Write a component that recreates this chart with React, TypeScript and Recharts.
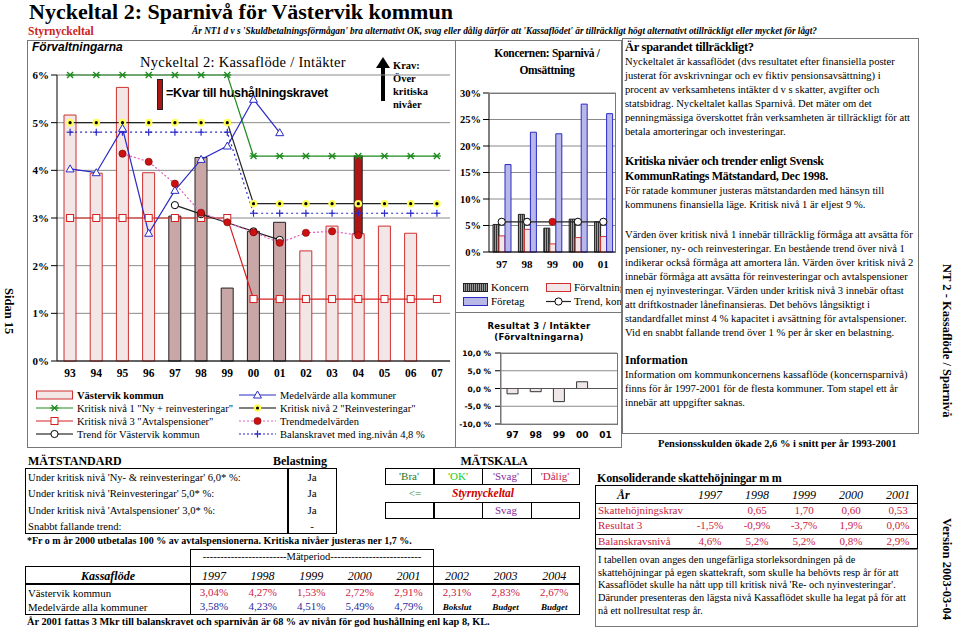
import React from 'react';
import { ComposedChart, BarChart, Bar, Line, XAxis, YAxis, CartesianGrid, Cell, ReferenceLine } from 'recharts';

// main chart: Förvaltningarna
const years = ['93', '94', '95', '96', '97', '98', '99', '00', '01', '02', '03', '04', '05', '06', '07'];
const vastervik = [5.16, 3.94, 5.74, 3.95, 3.04, 4.27, 1.53, 2.72, 2.91, 2.31, 2.83, 2.67, 2.83, 2.68, null];
const actualYears = ['97', '98', '99', '00', '01'];
// kvar till hushållningskravet, stacked on top of the 04 bar (2,67 -> 4,3)
const kvarTillKrav = [null, null, null, null, null, null, null, null, null, null, null, 1.63, null, null, null];
const niva1 = [6, 6, 6, 6, 6, 6, 6, 4.3, 4.3, 4.3, 4.3, 4.3, 4.3, 4.3, 4.3];
const niva2 = [5, 5, 5, 5, 5, 5, 5, 3.3, 3.3, 3.3, 3.3, 3.3, 3.3, 3.3, 3.3];
const niva3 = [3, 3, 3, 3, 3, 3, 3, 1.3, 1.3, 1.3, 1.3, 1.3, 1.3, 1.3, 1.3];
const balanskrav = [4.8, 4.8, 4.8, 4.8, 4.8, 4.8, 4.8, 3.1, 3.1, 3.1, 3.1, 3.1, 3.1, 3.1, 3.1];
const medelAlla = [4.03, 3.95, 4.88, 2.68, 3.58, 4.23, 4.51, 5.49, 4.79, null, null, null, null, null, null];
const trendMedel = [null, null, 4.35, 4.18, 3.72, 3.11, 2.91, 2.7, 2.48, 2.69, 2.72, 2.64, null, null, null];
const trendVastervik = [null, null, null, null, 3.27, 3.08, 2.9, 2.72, 2.54, null, null, null, null, null, null];

// Koncernen: Sparnivå / Omsättning
const kYears = ['97', '98', '99', '00', '01'];
const koncern = [5.2, 7.1, 4.5, 6.2, 5.7];
const forvaltning = [3.04, 4.27, 1.53, 2.72, 2.91];
const foretag = [16.5, 22.6, 22.3, 27.9, 26.1];
const trendKoncern = [5.7, 5.7, 5.7, 5.7, 5.7];

// Resultat 3 / Intäkter
const resultat3 = [-1.5, -0.9, -3.7, 1.9, 0.0];

const mainData = years.map((y, i) => ({
  year: y,
  vastervik: vastervik[i],
  kvar: kvarTillKrav[i],
  niva1: niva1[i],
  niva2: niva2[i],
  niva3: niva3[i],
  balans: balanskrav[i],
  medel: medelAlla[i],
  trendMedel: trendMedel[i],
  trendV: trendVastervik[i],
}));
const koncernData = kYears.map((y, i) => ({ year: y, koncern: koncern[i], forv: forvaltning[i], foretag: foretag[i], trend: trendKoncern[i] }));
const resData = kYears.map((y, i) => ({ year: y, res: resultat3[i] }));

const SERIF = '"Liberation Serif", "Times New Roman", serif';
const SANS = '"Liberation Sans", Arial, sans-serif';
const VERD = '"DejaVu Sans", Verdana, sans-serif';

// markers
const Star = ({ cx, cy }: any) => (
  <g stroke="#1f8a1f" strokeWidth={1.3}>
    <line x1={cx - 4} y1={cy} x2={cx + 4} y2={cy} />
    <line x1={cx - 3} y1={cy - 3} x2={cx + 3} y2={cy + 3} />
    <line x1={cx - 3} y1={cy + 3} x2={cx + 3} y2={cy - 3} />
  </g>
);
const YellowDot = ({ cx, cy }: any) => (
  <g>
    <circle cx={cx} cy={cy} r={3.8} fill="#ffff55" />
    <circle cx={cx} cy={cy} r={1.6} fill="#000" />
  </g>
);
const Square = ({ cx, cy }: any) => <rect x={cx - 3.5} y={cy - 3.5} width={7} height={7} fill="#fff" stroke="#d82020" strokeWidth={1} />;
const Plus = ({ cx, cy }: any) => (
  <g stroke="#2a2ac8" strokeWidth={1.2}>
    <line x1={cx - 3.5} y1={cy} x2={cx + 3.5} y2={cy} />
    <line x1={cx} y1={cy - 3.5} x2={cx} y2={cy + 3.5} />
  </g>
);
const Tri = ({ cx, cy }: any) => (
  <polygon points={`${cx},${cy - 4} ${cx - 4},${cy + 3} ${cx + 4},${cy + 3}`} fill="#fff" stroke="#2a2ac8" strokeWidth={1} />
);
const RedDot = ({ cx, cy }: any) => <circle cx={cx} cy={cy} r={3.6} fill="#cc1111" stroke="#7a0000" strokeWidth={0.6} />;
const OpenDot = ({ cx, cy }: any) => <circle cx={cx} cy={cy} r={3.6} fill="#fff" stroke="#000" strokeWidth={1} />;

const dotFn = (M: any, skip: number[] = []) => (p: any) => {
  if (p.value == null || p.cx == null || p.cy == null || skip.includes(p.index)) return <g key={p.key || `d${p.index}`} />;
  return <M key={p.key || `d${p.index}`} cx={p.cx} cy={p.cy} />;
};

const KvarShape = (p: any) => {
  if (!p.height) return <g />;
  return <rect x={p.x + 2} y={p.y} width={p.width - 4} height={p.height} fill="#b01515" stroke="#222" strokeWidth={1} />;
};

const T = ({ x, y, s = 11, children, style }: any) => (
  <div style={{ position: 'absolute', left: x, top: y - s * 0.6, fontSize: s, lineHeight: `${s * 1.2}px`, whiteSpace: 'nowrap', ...style }}>
    {children}
  </div>
);
const C = ({ cx, y, w, s = 11, children, style }: any) => (
  <div style={{ position: 'absolute', left: cx - w / 2, width: w, top: y - s * 0.6, fontSize: s, lineHeight: `${s * 1.2}px`, textAlign: 'center', whiteSpace: 'nowrap', ...style }}>
    {children}
  </div>
);
const Box = ({ x, y, w, h, b = '1px solid #777', style }: any) => (
  <div style={{ position: 'absolute', left: x, top: y, width: w, height: h, border: b, boxSizing: 'border-box', ...style }} />
);

const LegSym = ({ kind }: { kind: string }) => {
  const w = 37;
  const cy = 5;
  const line = (stroke: string, dash?: string) => <line x1={0} y1={cy} x2={w} y2={cy} stroke={stroke} strokeWidth={1.2} strokeDasharray={dash} />;
  let content: any = null;
  if (kind === 'bar') content = <rect x={0.5} y={1} width={w - 1} height={8} fill="#f3e6e6" stroke="#d03030" />;
  if (kind === 'n1') content = <>{line('#1f8a1f')}<Star cx={w / 2} cy={cy} /></>;
  if (kind === 'n3') content = <>{line('#d82020')}<Square cx={w / 2} cy={cy} /></>;
  if (kind === 'tv') content = <>{line('#000')}<OpenDot cx={w / 2} cy={cy} /></>;
  if (kind === 'med') content = <>{line('#2a2ac8')}<Tri cx={w / 2} cy={cy} /></>;
  if (kind === 'n2') content = <>{line('#000')}<YellowDot cx={w / 2} cy={cy} /></>;
  if (kind === 'tm') content = <>{line('#e060c0', '2 2')}<RedDot cx={w / 2} cy={cy} /></>;
  if (kind === 'bk') content = <>{line('#2a2ac8', '2 2')}<Plus cx={w / 2} cy={cy} /></>;
  return <svg width={w} height={10} style={{ display: 'block' }}>{content}</svg>;
};

const LegItem = ({ x, y, kind, label, bold }: any) => (
  <div style={{ position: 'absolute', left: x, top: y - 6, display: 'flex', alignItems: 'center', height: 12, fontSize: 10.5, whiteSpace: 'nowrap', fontWeight: bold ? 'bold' : 'normal' }}>
    <LegSym kind={kind} />
    <span style={{ marginLeft: 4 }}>{label}</span>
  </div>
);

const resTick = (p: any) => (
  <text key={`rt${p.index}`} x={p.x - 2} y={p.y} dy={3} textAnchor="end" fontFamily={VERD} fontSize={7.5} fontWeight="bold" fill="#000">
    {`${Number(p.payload.value).toFixed(1).replace('.', ',')} %`}
  </text>
);

const App: React.FC = () => {
  const bold11 = { fontFamily: SERIF, fontSize: 11, fontWeight: 'bold', fill: '#000' };
  return (
    <div style={{ position: 'absolute', left: 0, top: 0, width: 959, height: 629, background: '#fff', fontFamily: SERIF, color: '#000', overflow: 'hidden' }}>
      {/* header */}
      <T x={29} y={12} s={22} style={{ fontWeight: 'bold' }}>Nyckeltal 2: Sparnivå för Västervik kommun</T>
      <T x={28} y={32} s={11.5} style={{ fontWeight: 'bold', color: '#cc2222' }}>Styrnyckeltal</T>
      <T x={192} y={32} s={9.3} style={{ fontWeight: 'bold', fontStyle: 'italic' }}>
        Är NT1 d v s 'Skuldbetalningsförmågan' bra alternativt OK, svag eller dålig därför att 'Kassaflödet' är tillräckligt högt alternativt otillräckligt eller mycket för lågt?
      </T>

      {/* side texts */}
      <div style={{ position: 'absolute', left: 1, top: 288, writingMode: 'vertical-rl', fontSize: 12.5, fontWeight: 'bold', whiteSpace: 'nowrap' }}>Sidan 15</div>
      <div style={{ position: 'absolute', left: 939, top: 264, writingMode: 'vertical-rl', fontSize: 12.5, fontWeight: 'bold', whiteSpace: 'nowrap' }}>NT 2 - Kassaflöde / Sparnivå</div>
      <div style={{ position: 'absolute', left: 939, top: 518, writingMode: 'vertical-rl', fontSize: 12.5, fontWeight: 'bold', whiteSpace: 'nowrap' }}>Version 2003-03-04</div>

      {/* main chart box */}
      <Box x={27} y={40} w={429} h={408} />
      <T x={32} y={47} s={12} style={{ fontFamily: SANS, fontStyle: 'italic', fontWeight: 'bold' }}>Förvaltningarna</T>
      <T x={140} y={63} s={14.5} style={{ letterSpacing: 0.3 }}>Nyckeltal 2: Kassaflöde / Intäkter</T>
      <div style={{ position: 'absolute', left: 157, top: 79, width: 6, height: 31, background: '#aa1515', border: '1px solid #222', boxSizing: 'border-box' }} />
      <T x={166} y={93} s={12.5} style={{ fontFamily: SANS, fontWeight: 'bold', letterSpacing: -0.3 }}>=Kvar till hushållningskravet</T>
      <svg style={{ position: 'absolute', left: 376, top: 57 }} width={14} height={44}>
        <polygon points="7,0 0,11 14,11" fill="#000" />
        <rect x={5} y={10} width={4} height={34} fill="#000" />
      </svg>
      <T x={393} y={66} s={10.5} style={{ fontWeight: 'bold' }}>Krav:</T>
      <T x={393} y={79} s={10.5} style={{ fontWeight: 'bold' }}>Över</T>
      <T x={393} y={92} s={10.5} style={{ fontWeight: 'bold' }}>kritiska</T>
      <T x={393} y={105} s={10.5} style={{ fontWeight: 'bold' }}>nivåer</T>

      <div style={{ position: 'absolute', left: 27, top: 40 }}>
        <ComposedChart width={428} height={351} data={mainData} margin={{ top: 35, right: 5, left: 0, bottom: 0 }} barGap={0}>
          <CartesianGrid vertical={false} stroke="#8a8a8a" />
          <XAxis dataKey="year" tickLine={false} axisLine={{ stroke: '#000' }} height={30} tick={{ ...bold11, fontSize: 11.5 }} interval={0} />
          <YAxis domain={[0, 6]} ticks={[0, 1, 2, 3, 4, 5, 6]} width={30} tickFormatter={(v) => `${v}%`} axisLine={{ stroke: '#000' }} tickLine={{ stroke: '#000' }} tick={bold11} />
          <Bar dataKey="vastervik" stackId="v" barSize={12} isAnimationActive={false}>
            {mainData.map((d, i) => {
              const act = actualYears.includes(d.year);
              return <Cell key={i} fill={act ? '#c9a7a7' : '#f3e6e6'} stroke={act ? '#222' : '#d03030'} strokeWidth={1} />;
            })}
          </Bar>
          <Line dataKey="niva1" stroke="#1f8a1f" strokeWidth={1.2} dot={dotFn(Star)} isAnimationActive={false} />
          <Line dataKey="niva3" stroke="#d82020" strokeWidth={1.2} dot={dotFn(Square)} isAnimationActive={false} />
          <Line dataKey="niva2" stroke="#222" strokeWidth={1.2} dot={dotFn(YellowDot)} isAnimationActive={false} />
          <Line dataKey="balans" stroke="#2a2ac8" strokeWidth={1.2} strokeDasharray="2 3" dot={dotFn(Plus)} isAnimationActive={false} />
          <Line dataKey="medel" stroke="#2a2ac8" strokeWidth={1.2} dot={dotFn(Tri)} isAnimationActive={false} />
          <Line dataKey="trendV" stroke="#222" strokeWidth={1.2} dot={dotFn(OpenDot, [6])} isAnimationActive={false} />
          <Line dataKey="trendMedel" stroke="#e060c0" strokeWidth={1.2} strokeDasharray="2 2" dot={dotFn(RedDot)} isAnimationActive={false} />
          <Bar dataKey="kvar" stackId="v" barSize={12} shape={KvarShape} isAnimationActive={false} />
        </ComposedChart>
      </div>

      <LegItem x={36} y={395} kind="bar" label="Västervik kommun" bold />
      <LegItem x={36} y={408} kind="n1" label={'Kritisk nivå 1 "Ny + reinvesteringar"'} />
      <LegItem x={36} y={421} kind="n3" label={'Kritisk nivå 3 "Avtalspensioner"'} />
      <LegItem x={36} y={434} kind="tv" label="Trend för Västervik kommun" />
      <LegItem x={239} y={395} kind="med" label="Medelvärde alla kommuner" />
      <LegItem x={239} y={408} kind="n2" label={'Kritisk nivå 2 "Reinvesteringar"'} />
      <LegItem x={239} y={421} kind="tm" label="Trendmedelvärden" />
      <LegItem x={239} y={434} kind="bk" label="Balanskravet med ing.nivån 4,8 %" />

      {/* Koncernen chart */}
      <div style={{ position: 'absolute', left: 455, top: 40, width: 167, height: 273, border: '1px solid #777', boxSizing: 'border-box', overflow: 'hidden' }}>
        <C cx={91} y={13} w={160} s={11.5} style={{ fontWeight: 'bold', letterSpacing: -0.3 }}>Koncernen: Sparnivå /</C>
        <C cx={91} y={30} w={160} s={11.5} style={{ fontWeight: 'bold', letterSpacing: -0.3 }}>Omsättning</C>
        <div style={{ position: 'absolute', left: 0, top: 44 }}>
          <BarChart width={165} height={190} data={koncernData} margin={{ top: 8, right: 5, left: 0, bottom: 0 }} barGap={0} barCategoryGap="14%">
            <defs>
              <pattern id="hatch" width="2" height="4" patternUnits="userSpaceOnUse">
                <rect width="2" height="4" fill="#9a9a9a" />
                <rect width="1" height="4" fill="#333" />
              </pattern>
            </defs>
            <CartesianGrid vertical={false} stroke="#8a8a8a" />
            <XAxis dataKey="year" tickLine={false} axisLine={{ stroke: '#000' }} height={23} tick={bold11} interval={0} />
            <YAxis domain={[0, 30]} ticks={[0, 5, 10, 15, 20, 25, 30]} interval={0} width={33} tickFormatter={(v) => `${v}%`} axisLine={{ stroke: '#000' }} tickLine={{ stroke: '#000' }} tick={{ ...bold11, fontSize: 10.5 }} />
            <Bar dataKey="koncern" barSize={6} fill="url(#hatch)" stroke="#222" isAnimationActive={false} />
            <Bar dataKey="forv" barSize={6} fill="#f3e6e6" stroke="#d03030" isAnimationActive={false} />
            <Bar dataKey="foretag" barSize={6} fill="#b8b8e6" stroke="#2a2ac8" isAnimationActive={false} />
            <Line dataKey="trend" stroke="#222" strokeWidth={1.2} isAnimationActive={false}
              dot={(p: any) => (p.index === 2 ? <RedDot key={`k${p.index}`} cx={p.cx} cy={p.cy} /> : <OpenDot key={`k${p.index}`} cx={p.cx} cy={p.cy} />)} />
          </BarChart>
        </div>
        <div style={{ position: 'absolute', left: 32, top: 52, width: 128, height: 160, border: '1px solid #777', boxSizing: 'border-box', borderLeft: 'none', borderBottom: 'none' }} />
        <div style={{ position: 'absolute', left: 7, top: 240, display: 'flex', alignItems: 'center', fontSize: 11, whiteSpace: 'nowrap' }}>
          <svg width={25} height={9}><defs><pattern id="hatch2" width="2" height="4" patternUnits="userSpaceOnUse"><rect width="2" height="4" fill="#9a9a9a" /><rect width="1" height="4" fill="#333" /></pattern></defs><rect x={0.5} y={0.5} width={24} height={8} fill="url(#hatch2)" stroke="#222" /></svg>
          <span style={{ marginLeft: 3 }}>Koncern</span>
        </div>
        <div style={{ position: 'absolute', left: 90, top: 240, display: 'flex', alignItems: 'center', fontSize: 11, whiteSpace: 'nowrap' }}>
          <svg width={25} height={9}><rect x={0.5} y={0.5} width={24} height={8} fill="#f3e6e6" stroke="#d03030" /></svg>
          <span style={{ marginLeft: 3 }}>Förvaltning</span>
        </div>
        <div style={{ position: 'absolute', left: 7, top: 254, display: 'flex', alignItems: 'center', fontSize: 11, whiteSpace: 'nowrap' }}>
          <svg width={25} height={9}><rect x={0.5} y={0.5} width={24} height={8} fill="#b8b8e6" stroke="#2a2ac8" /></svg>
          <span style={{ marginLeft: 3 }}>Företag</span>
        </div>
        <div style={{ position: 'absolute', left: 90, top: 254, display: 'flex', alignItems: 'center', fontSize: 11, whiteSpace: 'nowrap' }}>
          <svg width={25} height={9}><line x1={0} y1={4.5} x2={25} y2={4.5} stroke="#222" strokeWidth={1.2} /><OpenDot cx={12.5} cy={4.5} /></svg>
          <span style={{ marginLeft: 3 }}>Trend, koncern</span>
        </div>
      </div>

      {/* Resultat 3 chart */}
      <div style={{ position: 'absolute', left: 455, top: 312, width: 167, height: 136, border: '1px solid #777', boxSizing: 'border-box', overflow: 'hidden' }}>
        <C cx={83} y={13} w={160} s={8.5} style={{ fontFamily: VERD, fontWeight: 'bold', letterSpacing: 0.3 }}>Resultat 3 / Intäkter</C>
        <C cx={83} y={24} w={160} s={8.5} style={{ fontFamily: VERD, fontWeight: 'bold', letterSpacing: 0.3 }}>(Förvaltningarna)</C>
        <div style={{ position: 'absolute', left: 0, top: 32 }}>
          <BarChart width={165} height={100} data={resData} margin={{ top: 8, right: 4, left: 0, bottom: 0 }} barCategoryGap="30%">
            <CartesianGrid vertical={false} stroke="#8a8a8a" />
            <XAxis dataKey="year" tickLine={false} axisLine={false} height={21} tick={{ fontFamily: VERD, fontSize: 9, fontWeight: 'bold', fill: '#000' }} interval={0} />
            <YAxis domain={[-10, 10]} ticks={[-10, -5, 0, 5, 10]} interval={0} width={45} axisLine={{ stroke: '#777' }} tickLine={{ stroke: '#000' }} tick={resTick} />
            <ReferenceLine y={0} stroke="#555" />
            <Bar dataKey="res" barSize={11} fill="#efe7e7" stroke="#333" isAnimationActive={false} />
          </BarChart>
        </div>
        <div style={{ position: 'absolute', left: 44, top: 40, width: 118, height: 72, border: '1px solid #777', boxSizing: 'border-box' }} />
      </div>

      {/* right text box */}
      <Box x={622} y={38} w={297} h={396} />
      <T x={625} y={47} s={12.5} style={{ fontWeight: 'bold', letterSpacing: -0.3 }}>Är sparandet tillräckligt?</T>
      {[
        'Nyckeltalet är kassaflödet (dvs resultatet efter finansiella poster',
        'justerat för avskrivningar och ev fiktiv pensionsavsättning) i',
        'procent av verksamhetens intäkter d v s skatter, avgifter och',
        'statsbidrag. Nyckeltalet kallas Sparnivå. Det mäter om det',
        'penningmässiga överskottet från verksamheten är tillräckligt för att',
        'betala amorteringar och investeringar.',
      ].map((t, i) => (
        <T key={i} x={625} y={62 + i * 14} s={10.6}>{t}</T>
      ))}
      <T x={625} y={161} s={12} style={{ fontWeight: 'bold', letterSpacing: -0.3 }}>Kritiska nivåer och trender enligt Svensk</T>
      <T x={625} y={176} s={12} style={{ fontWeight: 'bold', letterSpacing: -0.3 }}>KommunRatings Mätstandard, Dec 1998.</T>
      <T x={625} y={191} s={10.6}>För ratade kommuner justeras mätstandarden med hänsyn till</T>
      <T x={625} y={205} s={10.6}>kommunens finansiella läge. Kritisk nivå 1 är eljest 9 %.</T>
      {[
        'Värden över kritisk nivå 1 innebär tillräcklig förmåga att avsätta för',
        'pensioner, ny- och reinvesteringar. En bestående trend över nivå 1',
        'indikerar också förmåga att amortera lån. Värden över kritisk nivå 2',
        'innebär förmåga att avsätta för reinvesteringar och avtalspensioner',
        'men ej nyinvesteringar. Värden under kritisk nivå 3 innebär oftast',
        'att driftkostnader lånefinansieras. Det behövs långsiktigt i',
        'standardfallet minst 4 % kapacitet i avsättning för avtalspensioner.',
        'Vid en snabbt fallande trend över 1 % per år sker en belastning.',
      ].map((t, i) => (
        <T key={i} x={625} y={235 + i * 14} s={10.6}>{t}</T>
      ))}
      <T x={625} y={360} s={12} style={{ fontWeight: 'bold' }}>Information</T>
      <T x={625} y={375} s={10.6}>Information om kommunkoncernens kassaflöde (koncernsparnivå)</T>
      <T x={625} y={389} s={10.6}>finns för år 1997-2001 för de flesta kommuner. Tom stapel ett år</T>
      <T x={625} y={403} s={10.6}>innebär att uppgifter saknas.</T>
      <T x={658} y={444} s={10.5} style={{ fontWeight: 'bold' }}>Pensionsskulden ökade  2,6 % i snitt per år 1993-2001</T>

      {/* MÄTSTANDARD */}
      <T x={28} y={461} s={12} style={{ fontWeight: 'bold' }}>MÄTSTANDARD</T>
      <C cx={300} y={461} w={80} s={12} style={{ fontWeight: 'bold' }}>Belastning</C>
      <Box x={25} y={468} w={312} h={66} b="1.5px solid #000" />
      <div style={{ position: 'absolute', left: 287, top: 468, width: 1.5, height: 66, background: '#000' }} />
      <T x={28} y={478} s={10.6}>Under kritisk nivå 'Ny- &amp; reinvesteringar' 6,0* %:</T>
      <T x={28} y={494} s={10.6}>Under kritisk nivå 'Reinvesteringar' 5,0* %:</T>
      <T x={28} y={511} s={10.6}>Under kritisk nivå 'Avtalspensioner' 3,0* %:</T>
      <T x={28} y={527} s={10.6}>Snabbt fallande trend:</T>
      <C cx={312} y={478} w={40} s={11}>Ja</C>
      <C cx={312} y={494} w={40} s={11}>Ja</C>
      <C cx={312} y={511} w={40} s={11}>Ja</C>
      <C cx={312} y={527} w={40} s={11}>-</C>

      {/* MÄTSKALA */}
      <C cx={494} y={461} w={100} s={12} style={{ fontWeight: 'bold', letterSpacing: -0.3 }}>MÄTSKALA</C>
      {[385, 433, 482, 531].map((x, i) => (
        <Box key={`a${i}`} x={x} y={468} w={i === 3 ? 49 : 49.5} h={17} b="1.2px solid #000" />
      ))}
      <C cx={409} y={477} w={48} s={11} style={{ color: '#1f7a1f' }}>'Bra'</C>
      <C cx={458} y={477} w={48} s={11} style={{ color: '#22cc22' }}>'OK'</C>
      <C cx={506} y={477} w={48} s={11} style={{ color: '#8a2a9a' }}>'Svag'</C>
      <C cx={555} y={477} w={48} s={11} style={{ color: '#cc2244' }}>'Dålig'</C>
      <C cx={415} y={494} w={30} s={11} style={{ color: '#1f8a1f' }}>&lt;=</C>
      <C cx={483} y={494} w={100} s={11.5} style={{ color: '#cc0000', fontWeight: 'bold', fontStyle: 'italic' }}>Styrnyckeltal</C>
      {[385, 433, 482, 531].map((x, i) => (
        <Box key={`b${i}`} x={x} y={502} w={i === 3 ? 49 : 49.5} h={17} b="1.2px solid #000" />
      ))}
      <C cx={506} y={510.5} w={48} s={11} style={{ color: '#8a2a9a' }}>Svag</C>

      <T x={27} y={541} s={10} style={{ fontWeight: 'bold' }}>*Fr o m år 2000 utbetalas 100 % av avtalspensionerna. Kritiska nivåer justeras ner 1,7 %.</T>

      {/* Kassaflöde table */}
      <Box x={190} y={549} w={244} h={18} b="1px solid #000" />
      <C cx={312} y={557} w={240} s={10.5} style={{ overflow: 'hidden' }}>------------------------Mätperiod--------------------------</C>
      <Box x={25} y={566} w={555} h={49} b="1.5px solid #000" />
      <div style={{ position: 'absolute', left: 25, top: 583, width: 555, height: 1.5, background: '#000' }} />
      <div style={{ position: 'absolute', left: 190, top: 566, width: 1, height: 49, background: '#000' }} />
      <div style={{ position: 'absolute', left: 433, top: 566, width: 1, height: 49, background: '#000' }} />
      <C cx={108} y={576} w={160} s={12} style={{ fontWeight: 'bold', fontStyle: 'italic' }}>Kassaflöde</C>
      {['1997', '1998', '1999', '2000', '2001', '2002', '2003', '2004'].map((y, i) => (
        <C key={y} cx={214 + i * 48.6} y={576} w={48} s={12} style={{ fontStyle: 'italic' }}>{y}</C>
      ))}
      <T x={28} y={593} s={10.8}>Västervik kommun</T>
      <T x={28} y={607} s={10.8}>Medelvärde alla kommuner</T>
      {['3,04%', '4,27%', '1,53%', '2,72%', '2,91%', '2,31%', '2,83%', '2,67%'].map((v, i) => (
        <C key={`v${i}`} cx={214 + i * 48.6} y={593} w={48} s={11} style={{ color: '#cc2244' }}>{v}</C>
      ))}
      {['3,58%', '4,23%', '4,51%', '5,49%', '4,79%'].map((v, i) => (
        <C key={`m${i}`} cx={214 + i * 48.6} y={607} w={48} s={11} style={{ color: '#2a2aa0' }}>{v}</C>
      ))}
      {['Bokslut', 'Budget', 'Budget'].map((v, i) => (
        <C key={`b${i}`} cx={457 + i * 48.6} y={607} w={48} s={9} style={{ fontStyle: 'italic', fontWeight: 'bold' }}>{v}</C>
      ))}
      <T x={27} y={622} s={10.3} style={{ fontWeight: 'bold' }}>År 2001 fattas 3 Mkr till balanskravet och sparnivån är 68 % av nivån för god hushållning enl kap 8, KL.</T>

      {/* Konsoliderande skattehöjningar */}
      <T x={597} y={478} s={12} style={{ fontWeight: 'bold', letterSpacing: -0.2 }}>Konsoliderande skattehöjningar m m</T>
      <Box x={595} y={485} w={323} h={64} b="1.5px solid #000" />
      {[503, 518, 534].map((y) => (
        <div key={y} style={{ position: 'absolute', left: 595, top: y, width: 323, height: 1.3, background: '#000' }} />
      ))}
      <T x={617} y={495} s={12} style={{ fontWeight: 'bold', fontStyle: 'italic' }}>År</T>
      {['1997', '1998', '1999', '2000', '2001'].map((y, i) => (
        <C key={y} cx={710 + i * 47} y={495} w={46} s={12} style={{ fontStyle: 'italic' }}>{y}</C>
      ))}
      <T x={598} y={510.5} s={11} style={{ color: '#cc2244' }}>Skattehöjningskrav</T>
      <T x={598} y={526} s={11} style={{ color: '#cc2244' }}>Resultat 3</T>
      <T x={598} y={542} s={11} style={{ color: '#cc2244' }}>Balanskravsnivå</T>
      {['', '0,65', '1,70', '0,60', '0,53'].map((v, i) => (
        <C key={`s${i}`} cx={710 + i * 47} y={510.5} w={46} s={11} style={{ color: '#cc2244' }}>{v}</C>
      ))}
      {['-1,5%', '-0,9%', '-3,7%', '1,9%', '0,0%'].map((v, i) => (
        <C key={`r${i}`} cx={710 + i * 47} y={526} w={46} s={11} style={{ color: '#cc2244' }}>{v}</C>
      ))}
      {['4,6%', '5,2%', '5,2%', '0,8%', '2,9%'].map((v, i) => (
        <C key={`k${i}`} cx={710 + i * 47} y={542} w={46} s={11} style={{ color: '#cc2244' }}>{v}</C>
      ))}
      <Box x={595} y={549} w={323} h={78} />
      {[
        'I tabellen ovan anges den ungefärliga storleksordningen på de',
        'skattehöjningar på egen skattekraft, som skulle ha behövts resp år för att',
        "Kassaflödet skulle ha nått upp till  kritisk nivå 'Re- och nyinvesteringar'.",
        'Därunder presenteras den lägsta nivå Kassaflödet skulle ha legat på för att',
        'nå ett nollresultat resp år.',
      ].map((t, i) => (
        <T key={i} x={598} y={560 + i * 12.8} s={10.4}>{t}</T>
      ))}
    </div>
  );
};

export default App;
